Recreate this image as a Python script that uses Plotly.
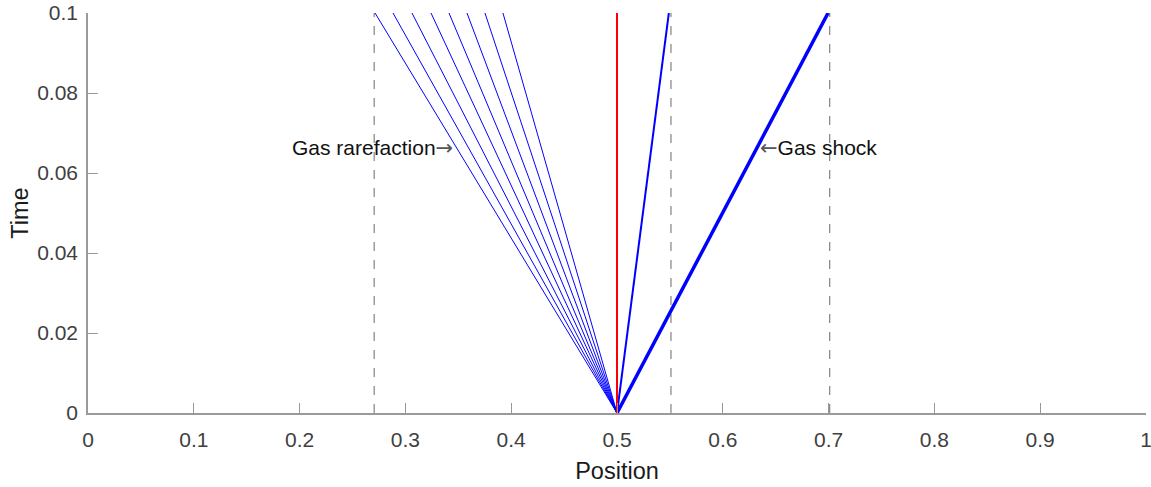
import plotly.graph_objects as go

# Data
x_origin = 0.5
t_end = 0.1
rarefaction_ends = [0.2713, 0.2883, 0.3062, 0.3242, 0.3412, 0.3582, 0.3752, 0.3922]
contact_end = 0.549
shock_end = 0.6995
dashed_positions = [0.2705, 0.551, 0.701]
x_ticks = [0, 0.1, 0.2, 0.3, 0.4, 0.5, 0.6, 0.7, 0.8, 0.9, 1]
y_ticks = [0, 0.02, 0.04, 0.06, 0.08, 0.1]

FONT = "Liberation Sans, Arial"
ARROW_R = "<span style='font-family:DejaVu Sans;color:#555555'>→</span>"
ARROW_L = "<span style='font-family:DejaVu Sans;color:#555555'>←</span>"

fig = go.Figure()

for xd in dashed_positions:
    fig.add_trace(go.Scatter(x=[xd, xd], y=[0, t_end], mode="lines",
                             line=dict(color="#8c8c8c", width=1.3, dash="dash"),
                             showlegend=False, hoverinfo="skip"))

for xe in rarefaction_ends:
    fig.add_trace(go.Scatter(x=[x_origin, xe], y=[0, t_end], mode="lines",
                             line=dict(color="#0000ff", width=1),
                             showlegend=False))

fig.add_trace(go.Scatter(x=[x_origin, contact_end], y=[0, t_end], mode="lines",
                         line=dict(color="#0000ff", width=2), showlegend=False))
fig.add_trace(go.Scatter(x=[x_origin, shock_end], y=[0, t_end], mode="lines",
                         line=dict(color="#0000ff", width=3.5), showlegend=False))
fig.add_trace(go.Scatter(x=[x_origin, x_origin], y=[0, t_end], mode="lines",
                         line=dict(color="#ff0000", width=2), showlegend=False))

fig.add_annotation(x=0.347, y=0.0662, xref="x", yref="y", text="Gas rarefaction" + ARROW_R,
                   showarrow=False, xanchor="right", yanchor="middle",
                   font=dict(family=FONT, size=21, color="#111111"))
fig.add_annotation(x=0.633, y=0.0662, xref="x", yref="y", text=ARROW_L + "Gas shock",
                   showarrow=False, xanchor="left", yanchor="middle",
                   font=dict(family=FONT, size=21, color="#111111"))

axis_common = dict(showline=True, linecolor="#9a9a9a", linewidth=1.5, mirror=False,
                   showgrid=False, zeroline=False, ticks="inside", ticklen=10,
                   tickcolor="#9a9a9a", tickwidth=1.3, automargin=False,
                   ticklabeloverflow="allow",
                   tickfont=dict(family=FONT, size=21, color="#404040"))

fig.update_xaxes(range=[0, 1], tickvals=x_ticks,
                 ticktext=[f"{v:g}" for v in x_ticks], ticklabelstandoff=7,
                 title=dict(text="Position", font=dict(family=FONT, size=23.5, color="#1a1a1a"), standoff=13),
                 **axis_common)
fig.update_yaxes(range=[0, 0.1], tickvals=y_ticks,
                 ticktext=[f"{v:g}" for v in y_ticks], ticklabelstandoff=4,
                 title=dict(text="Time", font=dict(family=FONT, size=23.5, color="#1a1a1a"), standoff=2),
                 **axis_common)

fig.update_layout(width=1151, height=487, margin=dict(l=88, r=5, t=13, b=74),
                  plot_bgcolor="white", paper_bgcolor="white")

fig.write_html("out.html")
